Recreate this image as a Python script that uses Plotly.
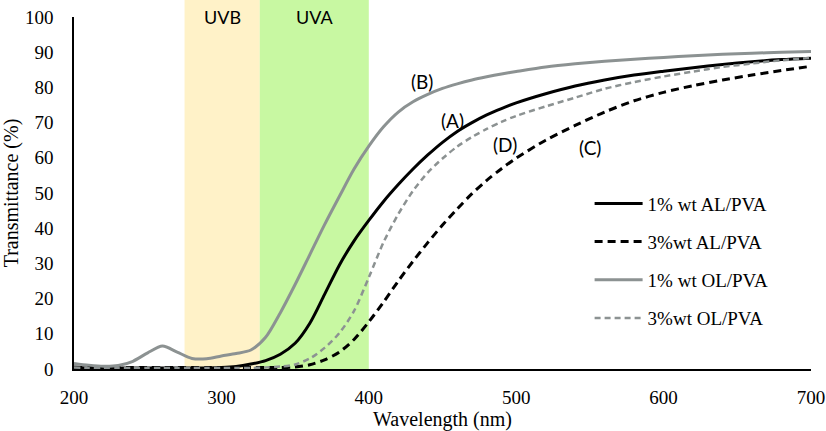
import plotly.graph_objects as go

wavelength = [200, 210, 220, 230, 240, 250, 260, 270, 280, 290, 300, 310, 320, 330,
              340, 350, 360, 370, 380, 390, 400, 410, 420, 430, 440, 450, 460, 470,
              480, 490, 500, 520, 540, 560, 580, 600, 620, 640, 660, 680, 700]

al_1 = [0.4, 0.3, 0.3, 0.3, 0.3, 0.3, 0.3, 0.3, 0.3, 0.3, 0.4, 0.7, 1.4, 2.4,
        4.2, 7.3, 13.0, 21.2, 29.5, 36.4, 42.2, 47.6, 52.4, 56.8, 60.8, 64.4, 67.5, 70.0,
        72.2, 74.0, 75.6, 78.2, 80.4, 82.1, 83.5, 84.6, 85.6, 86.5, 87.3, 87.9, 88.3]

al_3 = [0.6, 0.4, 0.4, 0.4, 0.4, 0.4, 0.4, 0.4, 0.4, 0.4, 0.4, 0.4, 0.4, 0.4,
        0.4, 0.6, 1.2, 2.6, 4.8, 8.4, 13.4, 19.0, 25.0, 30.6, 35.9, 40.9, 45.5, 49.8,
        53.6, 56.9, 59.9, 65.0, 69.2, 73.0, 76.2, 78.6, 80.5, 82.1, 83.5, 84.8, 86.0]

ol_1 = [1.6, 1.1, 0.8, 1.0, 2.2, 4.6, 6.5, 4.8, 3.0, 2.9, 3.7, 4.4, 5.4, 9.0,
        16.0, 24.0, 32.5, 41.0, 49.0, 56.8, 63.3, 68.8, 73.0, 75.9, 78.0, 79.7, 81.0, 82.1,
        83.0, 83.8, 84.5, 85.8, 86.7, 87.4, 88.0, 88.5, 89.0, 89.4, 89.7, 90.0, 90.2]

ol_3 = [0.4, 0.3, 0.3, 0.3, 0.3, 0.3, 0.3, 0.3, 0.3, 0.3, 0.3, 0.3, 0.3, 0.4,
        0.7, 1.3, 3.0, 6.0, 10.2, 16.5, 26.0, 36.0, 44.0, 50.6, 55.8, 59.8, 63.2, 65.9,
        68.2, 70.2, 71.9, 74.6, 77.1, 79.6, 81.5, 83.1, 84.5, 85.8, 86.8, 87.7, 88.4]

series_names = ["1% wt AL/PVA", "3%wt AL/PVA", "1% wt OL/PVA", "3%wt OL/PVA"]
series_values = [al_1, al_3, ol_1, ol_3]
series_colors = ["#000000", "#000000", "#8c9292", "#8c9292"]
series_dash = ["solid", "8px,5px", "solid", "6px,4px"]
series_width = [3, 3, 3, 2.5]

band_names = ["UVB", "UVA"]
band_starts = [275, 326]
band_ends = [326, 400]
band_colors = ["#fff2c8", "#c8f8a2"]

curve_labels = ["(B)", "(A)", "(D)", "(C)"]
curve_label_x = [436, 457, 492.5, 550]
curve_label_y = [81.6, 70.6, 63.7, 62.8]

x_ticks = [200, 300, 400, 500, 600, 700]
y_ticks = [0, 10, 20, 30, 40, 50, 60, 70, 80, 90, 100]

fig = go.Figure()
for i, (name, vals) in enumerate(zip(series_names, series_values)):
    fig.add_trace(go.Scatter(
        x=wavelength, y=vals, mode="lines", name=name,
        legendgroup=f"g{i}",
        line=dict(color=series_colors[i], dash=series_dash[i], width=series_width[i],
                  shape="spline", smoothing=0.8),
    ))

for name, x0, x1, c in zip(band_names, band_starts, band_ends, band_colors):
    fig.add_shape(type="rect", xref="x", yref="paper", x0=x0, x1=x1, y0=0, y1=1.06,
                  fillcolor=c, line=dict(width=0), layer="below")
    fig.add_annotation(x=(x0 + x1) / 2, y=99.95, xref="x", yref="y", text=name,
                       showarrow=False, font=dict(family="Lato", size=18, color="#000"))

for t, x, y in zip(curve_labels, curve_label_x, curve_label_y):
    fig.add_annotation(x=x, y=y, text=t, showarrow=False,
                       font=dict(family="Lato", size=19, color="#000"))

serif = "Liberation Serif, Times New Roman, serif"
fig.update_layout(
    width=826, height=431,
    margin=dict(l=73.5, r=15, t=17, b=61.5),
    plot_bgcolor="white", paper_bgcolor="white",
    font=dict(family=serif, size=19, color="#000"),
    showlegend=True,
    legend=dict(x=0.6996, y=0.524, xanchor="left", yanchor="top",
                bgcolor="rgba(0,0,0,0)", traceorder="grouped", tracegroupgap=10.5,
                itemwidth=48,
                font=dict(family=serif, size=19, color="#000")),
    xaxis=dict(range=[200, 700], tickvals=x_ticks, showgrid=False, zeroline=False,
               automargin=False,
               showline=True, linecolor="#000", linewidth=1.5,
               ticks="outside", ticklen=10, tickcolor="rgba(0,0,0,0)",
               title=dict(text="Wavelength (nm)", font=dict(size=20), standoff=0)),
    yaxis=dict(range=[0, 100], tickvals=y_ticks, showgrid=False, zeroline=False,
               automargin=False,
               showline=True, linecolor="#000", linewidth=1.5,
               ticks="outside", ticklen=15, tickcolor="rgba(0,0,0,0)",
               title=dict(text="Transmittance (%)", font=dict(size=20), standoff=8)),
)

fig.write_html("out.html", config={"displayModeBar": False},
               post_script="document.body.style.margin='0px';")
